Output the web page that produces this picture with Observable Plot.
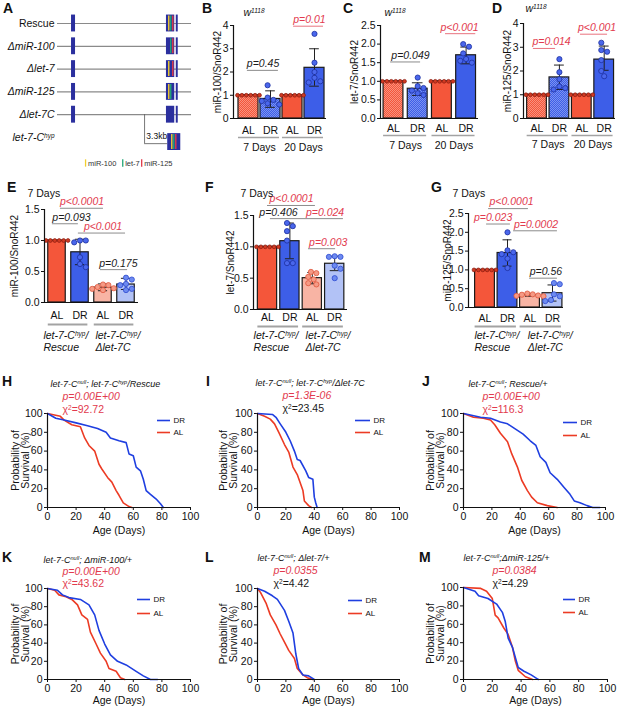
<!DOCTYPE html>
<html><head><meta charset="utf-8">
<script src="https://cdn.jsdelivr.net/npm/d3@7"></script>
<script src="https://cdn.jsdelivr.net/npm/@observablehq/plot@0.6"></script>
<style>
body{margin:0;background:#fff;}
#fig{position:relative;width:617px;height:707px;font-family:"Liberation Sans",Arial,Helvetica,sans-serif;overflow:hidden;background:#fff}
#fig svg{position:absolute;overflow:visible;background:transparent !important;max-width:none}
.lt{position:absolute;font-weight:bold;font-size:14px;line-height:14px;color:#111}
</style></head><body>
<div id="fig">
<svg width="0" height="0" style="position:absolute"><defs>
<pattern id="patR" width="2" height="2" patternUnits="userSpaceOnUse"><rect width="2" height="2" fill="#f4563a"/><rect width="1" height="1" fill="#f8927f"/><rect x="1" y="1" width="1" height="1" fill="#f8927f"/></pattern>
<pattern id="patB" width="2" height="2" patternUnits="userSpaceOnUse"><rect width="2" height="2" fill="#3d5ee8"/><rect width="1" height="1" fill="#7d93f0"/><rect x="1" y="1" width="1" height="1" fill="#7d93f0"/></pattern>
</defs></svg>
</div>
<script>
// ================= DATA =================
// Panel A: constructs (kb positions along the let-7-C locus)
const constructs = ["Rescue","ΔmiR-100","Δlet-7","ΔmiR-125","Δlet-7C","let-7-C^{hyp}"];
const miRNAs = ["miR-100","let-7","miR-125"];
const deleted = [[],["miR-100"],["let-7"],["miR-125"],["miR-100","let-7","miR-125"]];
const locusKb = [0, 19.1];
const exon1Kb = [2.0, 2.57];
const clusterKb = [15.53, 16.71];
const exon3Kb = [16.93, 17.21];
const miRKb = [15.86, 16.14, 16.43];
const hypKb = [15.71, 17.57];
const hypStripeKb = [16.29, 16.57, 16.86];
const gapKb = 3.3;

// Panels B–D (w1118)
const wCats = ["AL","DR","AL","DR"];
const wGroups = ["7 Days","20 Days"];
const B_means = [1, 0.84, 1, 2.18];
const B_sd = [null,[0.48,1.19],null,[1.39,3.0]];
const B_dots = [[1,1,1,1,1,1],[1.43,0.9,0.8,0.75,0.65,0.6],[1,1,1,1,1,1],[3.64,2.4,2.0,1.75,1.6,1.55]];
const B_p = ["p=0.45","p=0.01"], B_pY = [2.07,3.97], B_sig = [false,true];

const C_means = [1, 0.8, 1, 1.7];
const C_sd = [null,[0.62,0.96],null,[1.47,1.92]];
const C_dots = [[1,1,1,1,1,1],[1.1,0.87,0.82,0.75,0.68,0.63],[1,1,1,1,1,1],[2.0,1.93,1.75,1.6,1.55,1.5]];
const C_p = ["p=0.049","p<0.001"], C_pY = [1.52,2.28], C_sig = [false,true];

const D_means = [1, 1.73, 1, 2.48];
const D_sd = [null,[1.22,2.25],null,[2.03,3.05]];
const D_dots = [[1,1,1,1,1,1],[2.5,1.95,1.65,1.35,1.28,1.22],[1,1,1,1,1,1],[3.19,2.88,2.81,2.46,2.0,1.78]];
const D_p = ["p=0.014","p<0.001"], D_pY = [2.95,3.55], D_sig = [true,true];

// Panels E–G (7 days)
const gCats = ["AL","DR","AL","DR"];
const gGroups = ["let-7-C^{hyp}/\nRescue","let-7-C^{hyp}/\nΔlet-7C"];
const E_means = [1, 0.81, 0.24, 0.29];
const E_sd = [null,[0.61,1.02],[0.19,0.3],[0.21,0.39]];
const E_dots = [[1,1,1,1,1,1],[1.0,1.0,0.97,0.73,0.62,0.57],[0.29,0.28,0.25,0.23,0.22,0.2],[0.4,0.37,0.3,0.28,0.22,0.2]];
const E_p = ["p<0.0001","p=0.093","p<0.001","p=0.175"], E_pY = [1.52,1.27,1.12,0.53], E_sig = [true,false,true,false];

const F_means = [1, 1.09, 0.5, 0.73];
const F_sd = [null,[0.81,1.38],[0.41,0.59],[0.62,0.85]];
const F_dots = [[1,1,1,1,1,1],[1.38,1.33,1.25,1.1,0.74,0.74],[0.6,0.58,0.52,0.48,0.42,0.4],[0.85,0.84,0.84,0.7,0.65,0.5]];
const F_p = ["p<0.0001","p=0.406","p=0.024","p=0.003"], F_pY = [1.66,1.45,1.45,0.97], F_sig = [true,false,true,true];

const G_means = [1, 1.45, 0.33, 0.38];
const G_sd = [null,[1.1,1.8],[0.3,0.37],[0.17,0.6]];
const G_dots = [[1,1,1,1,1,1],[2.0,1.52,1.47,1.42,1.3,1.05],[0.37,0.35,0.34,0.32,0.31,0.3],[0.65,0.62,0.35,0.3,0.2,0.17]];
const G_p = ["p<0.0001","p=0.023","p=0.0002","p=0.56"], G_pY = [2.63,2.22,2.04,0.78], G_sig = [true,true,true,false];

// Panels H–M survival curves: [age (days), survival (%)]
const H_DR = [[0,100],[5.8,95],[11.6,93],[20,90],[28,87],[35,84],[41,80],[44,74],[50,71],[55,69],[57,57],[60,55],[62,43],[65,39],[67,30],[69,18],[72,14],[76,9],[79,4],[81,0]];
const H_AL = [[0,100],[9,97],[11.6,93],[17,88],[23,86],[26,74],[29,66],[33,60],[36,46],[38,41],[42,32],[45,27],[48,18],[50,13],[53,5],[57,1],[59,0]];
const I_DR = [[0,100],[10.5,99],[13,96],[16,89],[20,80],[23,71],[26,60],[28,51],[30,50],[34,39],[36,32],[39,30],[40,11],[41,5],[42,0]];
const I_AL = [[0,100],[5,97],[9,94],[12,89],[15,80],[19,67],[22,59],[25,43],[28,35],[32,18],[33,7],[36,2],[38,0]];
const J_DR = [[0,100],[12,96],[19,95],[26,91],[31,89],[34,86],[38,82],[42,78],[47,71],[51,66],[54,54],[58,48],[61,37],[66,30],[71,21],[75,14],[78,7],[82,5],[87,2],[91,0],[96,0]];
const J_AL = [[0,100],[7,96],[14,95],[19,93],[22,88],[26,79],[31,70],[34,57],[38,43],[41,29],[45,18],[48,11],[52,5],[59,2],[66,0]];
const K_DR = [[0,100],[7,98],[10.5,93],[15,90],[23,88],[29,82],[33,71],[36,54],[40,39],[44,27],[49,20],[55,16],[62,9],[67,4],[72,0],[77,0]];
const K_AL = [[0,100],[5,98],[8,93],[13,91],[17,88],[21,82],[24,71],[28,66],[30,52],[34,39],[37,29],[41,20],[43,12],[48,9],[51,2],[54,0]];
const L_DR = [[0,100],[5,97],[10.5,92],[14,88],[19,76],[22,64],[25,51],[27,28],[29,12],[32,5],[36,4],[40,0]];
const L_AL = [[0,100],[2,96],[6,84],[9,71],[13,60],[16,50],[19,41],[22,32],[26,23],[28,12],[32,5],[35,2],[39,0]];
const M_DR = [[0,100],[8,96],[10.5,91],[17,88],[23,82],[27,73],[29,63],[31,45],[34,35],[36,24],[38,13],[42,9],[47,5],[51,1],[52,0]];
const M_AL = [[0,100],[12,99],[16,96],[20,88],[22,70],[24,67],[28,56],[31,49],[34,35],[36,20],[38,10],[43,3],[48,0]];
const survTitles = ["let-7-C^{null}; let-7-C^{hyp}/Rescue","let-7-C^{null}; let-7-C^{hyp}/Δlet-7C","let-7-C^{null}; Rescue/+","let-7-C^{null}; ΔmiR-100/+","let-7-C^{null}; Δlet-7/+","let-7-C^{null};ΔmiR-125/+"];
const survP = ["p=0.00E+00","p=1.3E-06","p=0.00E+00","p=0.00E+00","p=0.0355","p=0.0384"];
const survChi = ["92.72","23.45","116.3","43.62","4.42","4.29"];
const survChiSig = [true,false,true,true,false,false];
const survTicks = [0,20,40,60,80,100];

// ================= STYLE / LAYOUT =================
const FONT = '"Liberation Sans", Arial, Helvetica, sans-serif';
const STYLE = {fontFamily: FONT, fontSize: "10.5px", background: "transparent", overflow: "visible", color: "#111"};
const RED = "#f4563a", BLUE = "#3d5ee8", LRED = "#f8b4a4", LBLUE = "#b2c2f6";
const PRED = "#e23a4e", NAVY = "#2b2f9e";
const AL_LINE = "#ec3b24", DR_LINE = "#1f3fe0";
const miRColor = ["#f2cf2e","#22a676","#e0394a"];
const fig = document.getElementById("fig");

function supify(root){
  root.querySelectorAll("text, tspan").forEach(el => {
    if (el.querySelector("tspan")) return;
    const s = el.textContent;
    if (!s.includes("^{")) return;
    const parts = s.split(/\^\{([^}]*)\}/);
    el.textContent = "";
    parts.forEach((p, k) => {
      if (!p) return;
      if (k % 2) {
        const t = document.createElementNS("http://www.w3.org/2000/svg", "tspan");
        t.setAttribute("baseline-shift", "super");
        t.setAttribute("font-size", "62%");
        t.textContent = p;
        el.appendChild(t);
      } else el.appendChild(document.createTextNode(p));
    });
  });
}
function put(svg, left, top){
  svg.style.position = "absolute";
  svg.style.left = left + "px";
  svg.style.top = top + "px";
  fig.appendChild(svg);
  supify(svg);
}
function letter(ch, x, y){
  const d = document.createElement("div");
  d.className = "lt"; d.textContent = ch;
  d.style.left = x + "px"; d.style.top = y + "px";
  fig.appendChild(d);
}
const MID = {lineAnchor: "middle"};

// ---------- Panel A ----------
function panelA(){
  const left = 0, top = 0, W = 200, H = 175, x0 = 57, x1 = 191, r0 = 23, r5 = 137;
  const tracks = constructs.slice(0, 5).map((c, i) => ({c, i}));
  const stripes = tracks.flatMap(t => miRNAs.map((m, k) => ({i: t.i, x: miRKb[k], col: miRColor[k], del: deleted[t.i].includes(m)})).filter(s => !s.del));
  const hypRow = 5.2;
  const hypStripes = hypStripeKb.map((x, k) => ({x, col: miRColor[k]}));
  const legend = miRNAs.map((m, k) => ({m, col: miRColor[k], k}));
  const legX = [4.0, 9.3, 12.0];
  return Plot.plot({
    width: W, height: H, marginLeft: x0 - left, marginRight: left + W - x1, marginTop: r0 - top, marginBottom: top + H - r5,
    x: {domain: locusKb, axis: null}, y: {domain: [0, 5], reverse: true, axis: null},
    color: {type: "identity"}, style: STYLE,
    marks: [
      Plot.ruleY(tracks, {y: "i", x1: locusKb[0], x2: locusKb[1], stroke: "#8a8a8a", strokeWidth: 1.2}),
      Plot.rect(tracks, {x1: exon1Kb[0], x2: exon1Kb[1], y1: d => d.i - 0.37, y2: d => d.i + 0.37, fill: NAVY}),
      Plot.rect(tracks, {x1: clusterKb[0], x2: clusterKb[1], y1: d => d.i - 0.37, y2: d => d.i + 0.37, fill: NAVY}),
      Plot.rect(tracks, {x1: exon3Kb[0], x2: exon3Kb[1], y1: d => d.i - 0.37, y2: d => d.i + 0.37, fill: NAVY}),
      Plot.ruleX(stripes, {x: "x", y1: d => d.i - 0.33, y2: d => d.i + 0.33, stroke: "col", strokeWidth: 1.4}),
      Plot.rect([0], {x1: hypKb[0], x2: hypKb[1], y1: hypRow - 0.37, y2: hypRow + 0.37, fill: NAVY}),
      Plot.ruleX(hypStripes, {x: "x", y1: hypRow - 0.33, y2: hypRow + 0.33, stroke: "col", strokeWidth: 1.4}),
      Plot.ruleX([hypKb[0] - gapKb], {y1: 4, y2: 5.27, stroke: "#555", strokeWidth: 0.8}),
      Plot.ruleY([5.27], {x1: hypKb[0] - gapKb, x2: hypKb[0], stroke: "#555", strokeWidth: 0.8}),
      Plot.text([gapKb + "kb"], {x: hypKb[0] - gapKb + 0.25, y: 4.95, text: d => d, textAnchor: "start", fontSize: 8.5}),
      Plot.text(tracks.slice(0, 1), {x: locusKb[0], y: "i", dx: -3, text: "c", textAnchor: "end", fontSize: 10.5}),
      Plot.text(constructs.slice(1).map((c, k) => ({c, i: k + 1})), {x: locusKb[0], y: "i", dx: -3, text: "c", textAnchor: "end", fontSize: 10.5, fontStyle: "italic"}),
      Plot.ruleX(legend, {x: d => legX[d.k], y1: 5.98, y2: 6.3, stroke: "col", strokeWidth: 1.3}),
      Plot.text(legend, {x: d => legX[d.k] + 0.35, y: 6.14, text: "m", textAnchor: "start", fontSize: 7.5, fill: "#333"})
    ]
  });
}

// ---------- Bar panels ----------
function barPanel(o){
  const xmin = (o.axisX - o.c0) / o.step, xmax = (o.axisEnd - o.c0) / o.step;
  const hw = o.halfW;
  const pxY = (o.y0px - o.yTopPx) / o.yMax;
  const bars = o.means.map((m, i) => ({i, m, fill: o.fills[i]}));
  const errs = o.sd.map((s, i) => s ? {i, lo: s[0], hi: s[1]} : null).filter(Boolean);
  const caps = errs.flatMap(e => [{i: e.i, y: e.hi}, {i: e.i, y: e.lo}]);
  // simple beeswarm spread of the replicate points inside each bar
  const dots = [];
  o.dots.forEach((arr, i) => {
    const placed = [];
    const dd = (o.dotR[i] * 2 + 0.6);
    arr.forEach(v => {
      const ypx = v * pxY;
      for (let k = 0; k < 40; k++) {
        const off = (k % 2 ? 1 : -1) * Math.ceil(k / 2) * dd / 2;
        if (placed.every(p => Math.hypot(p.off - off, p.ypx - ypx) >= dd)) { placed.push({off, ypx, v}); break; }
      }
    });
    const mn = Math.min(...placed.map(p => p.off)), mx = Math.max(...placed.map(p => p.off));
    placed.forEach(p => dots.push({x: i + (p.off - (mn + mx) / 2) / o.step, y: p.v, fill: o.dotFill[i], stroke: o.dotStroke[i], r: o.dotR[i]}));
  });
  const pv = o.pLabels.map((label, k) => ({label, a: o.pSpan[k][0], b: o.pSpan[k][1], tx: o.pTextX[k], y: o.pY[k], sig: o.pSig[k]}));
  const groups = o.groups.map((label, g) => ({label, a: 2 * g, b: 2 * g + 1, tx: o.groupTextX ? o.groupTextX[g] : 2 * g + 0.5}));
  return Plot.plot({
    width: o.W, height: o.H,
    marginLeft: o.axisX - o.left, marginRight: o.left + o.W - o.axisEnd,
    marginTop: o.yTopPx - o.top, marginBottom: o.top + o.H - o.y0px,
    x: {domain: [xmin, xmax], ticks: [0, 1, 2, 3], tickFormat: i => o.cats[i], tickSize: 0, tickPadding: o.catDy - 3.6, label: null},
    y: {domain: [0, o.yMax], ticks: o.yTicks, tickFormat: o.yFmt, tickSize: 3, tickPadding: 2, label: null},
    color: {type: "identity"}, style: STYLE,
    marks: [
      Plot.rect(bars, {x1: d => d.i - hw, x2: d => d.i + hw, y1: 0, y2: "m", fill: "fill", stroke: "#1b1b1b", strokeWidth: 1.2}),
      Plot.ruleX(errs, {x: "i", y1: "lo", y2: "hi", stroke: "#222", strokeWidth: 1}),
      Plot.ruleY(caps, {y: "y", x1: d => d.i - o.cap, x2: d => d.i + o.cap, stroke: "#222", strokeWidth: 1}),
      Plot.dot(dots.filter(d => d.r < 2.2), {x: "x", y: "y", r: 1.9, fill: "fill", stroke: "stroke", strokeWidth: 0.7}),
      Plot.dot(dots.filter(d => d.r >= 2.2), {x: "x", y: "y", r: 2.6, fill: "fill", stroke: "stroke", strokeWidth: 0.8}),
      Plot.ruleY([0], {stroke: "#111", strokeWidth: 1.2}),
      Plot.ruleX([xmin], {stroke: "#111", strokeWidth: 1.2}),
      Plot.ruleY(pv, {y: "y", x1: "a", x2: "b", stroke: d => d.sig && o.redLines ? "#e9737f" : "#8c8c8c", strokeWidth: 1}),
      Plot.text(pv, {x: "tx", y: "y", dy: -6.5, text: "label", fill: d => d.sig ? PRED : "#1a1a1a", fontStyle: "italic", fontSize: 10.5}),
      Plot.ruleY(groups, {y: () => 0, x1: d => d.a - hw, x2: d => d.b + hw * 0.9, dy: o.lineDy, stroke: "#a3a3a3", strokeWidth: o.lineW}),
      Plot.text(groups, {x: "tx", y: () => 0, dy: o.labelDy, text: "label", textAnchor: o.groupTextX ? "start" : "middle", lineAnchor: "middle", fontStyle: o.groupTextX ? "italic" : "normal", fontSize: 10.5, lineHeight: 1.15}),
      Plot.text([o.ylabel], {...MID, frameAnchor: "left", textAnchor: "middle", dx: o.ylDx, rotate: -90, text: d => d, fontSize: 10}),
      Plot.text([o.title], {...MID, frameAnchor: "top-left", dx: o.tDx, dy: o.tDy, text: d => d, textAnchor: "start", fontStyle: o.titleItalic ? "italic" : "normal", fontSize: 10.5})
    ]
  });
}

const wFills = ["url(#patR)", "url(#patB)", RED, BLUE];
const gFills = [RED, BLUE, LRED, LBLUE];
const wDotFill = ["#cf3a22", "#4a67ec", "#cf3a22", "#4a67ec"], wDotStroke = ["#8a1a0e", "#1c2f9e", "#8a1a0e", "#1c2f9e"];
const gDotFill = ["#cf3a22", "#4a67ec", "#f59a85", "#6d8af0"], gDotStroke = ["#8a1a0e", "#1c2f9e", "#e0573d", "#2d4ad0"];
const dotR = [1.9, 2.6, 2.4, 2.6];
const wDotR = [1.9, 2.6, 1.9, 2.6];

const common = {cats: wCats, groups: wGroups, fills: wFills, dotFill: wDotFill, dotStroke: wDotStroke, dotR: wDotR, cap: 0.22, lineW: 1.5, redLines: true, titleItalic: true, title: "w^{1118}"};
put(barPanel({...common, left: 190, top: 0, W: 150, H: 160, axisX: 233, c0: 248, step: 22, axisEnd: 326, halfW: 0.455,
  y0px: 118, yTopPx: 25, yMax: 4, yTicks: [0,1,2,3,4], yFmt: "d",
  means: B_means, sd: B_sd, dots: B_dots, pLabels: B_p, pY: B_pY, pSig: B_sig,
  pSpan: [[-0.05,1.36],[2.05,3.41]], pTextX: [0.66,2.77],
  catDy: 12, lineDy: 19, labelDy: 29, ylabel: "miR-100/SnoR442", ylDx: -16, tDx: 10, tDy: -13}), 190, 0);
put(barPanel({...common, left: 340, top: 0, W: 150, H: 160, axisX: 380, c0: 393, step: 24.2, axisEnd: 478, halfW: 0.41,
  y0px: 118, yTopPx: 25, yMax: 2.5, yTicks: [0,0.5,1,1.5,2,2.5], yFmt: ".1f",
  means: C_means, sd: C_sd, dots: C_dots, pLabels: C_p, pY: C_pY, pSig: C_sig,
  pSpan: [[-0.12,1.12],[2.15,3.4]], pTextX: [0.7,2.73],
  catDy: 10, lineDy: 17, labelDy: 27, ylabel: "let-7/SnoR442", ylDx: -26, tDx: 4, tDy: -13}), 340, 0);
put(barPanel({...common, left: 490, top: 0, W: 127, H: 160, axisX: 523, c0: 536.5, step: 22.4, axisEnd: 615, halfW: 0.44,
  y0px: 118, yTopPx: 23, yMax: 4, yTicks: [0,1,2,3,4], yFmt: "d",
  means: D_means, sd: D_sd, dots: D_dots, pLabels: D_p, pY: D_pY, pSig: D_sig,
  pSpan: [[-0.16,0.83],[1.94,3.15]], pTextX: [0.65,2.68],
  catDy: 10, lineDy: 17, labelDy: 26, ylabel: "miR-125/SnoR442", ylDx: -16, tDx: 2, tDy: -15}), 490, 0);

const common2 = {cats: gCats, groups: gGroups, fills: gFills, dotFill: gDotFill, dotStroke: gDotStroke, dotR: dotR, cap: 0.2, lineW: 2.2, redLines: false, titleItalic: false, title: "7 Days", yFmt: ".1f"};
put(barPanel({...common2, left: 0, top: 170, W: 200, H: 190, axisX: 44, c0: 56.5, step: 23, axisEnd: 138, halfW: 0.38,
  y0px: 302, yTopPx: 209, yMax: 1.5, yTicks: [0,0.5,1,1.5],
  means: E_means, sd: E_sd, dots: E_dots, pLabels: E_p, pY: E_pY, pSig: E_sig, groupTextX: [-0.59, 1.67],
  pSpan: [[0.15,2.02],[-0.2,0.93],[0.93,2.98],[1.89,3.07]], pTextX: [1.09,0.63,2.0,2.67],
  catDy: 13, lineDy: 22, labelDy: 39, ylabel: "miR-100/SnoR442", ylDx: -30, tDx: -17, tDy: -16}), 0, 170);
put(barPanel({...common2, left: 200, top: 170, W: 200, H: 190, axisX: 253, c0: 267, step: 22.4, axisEnd: 347, halfW: 0.43,
  y0px: 309, yTopPx: 215, yMax: 1.5, yTicks: [0,0.5,1,1.5],
  means: F_means, sd: F_sd, dots: F_dots, pLabels: F_p, pY: F_pY, pSig: F_sig, groupTextX: [-0.62, 1.7],
  pSpan: [[0,2.14],[0.13,1.34],[1.34,3.39],[1.83,3.04]], pTextX: [1.07,0.49,2.57,2.71],
  catDy: 8, lineDy: 17, labelDy: 32, ylabel: "let-7/SnoR442", ylDx: -23, tDx: -13, tDy: -22}), 200, 170);
put(barPanel({...common2, left: 400, top: 170, W: 217, H: 190, axisX: 468, c0: 484.5, step: 22.5, axisEnd: 563, halfW: 0.44,
  y0px: 307, yTopPx: 213, yMax: 2.5, yTicks: [0,0.5,1,1.5,2,2.5],
  means: G_means, sd: G_sd, dots: G_dots, pLabels: G_p, pY: G_pY, pSig: G_sig, groupTextX: [-0.47, 1.9],
  pSpan: [[0.16,1.93],[0.07,1.13],[1.27,3.22],[1.98,3.22]], pTextX: [1.18,0.36,2.27,2.71],
  catDy: 11, lineDy: 19, labelDy: 34, ylabel: "miR-125/SnoR442", ylDx: -21, tDx: -16, tDy: -20}), 400, 170);

// ---------- Survival panels ----------
function survPanel(o){
  const pxX = (o.x100 - o.x0) / 100, pxY = (o.y0 - o.y100) / 100;
  const leg = [{lab: "DR", c: DR_LINE, dy: o.legDy[0]}, {lab: "AL", c: AL_LINE, dy: o.legDy[1]}];
  return Plot.plot({
    width: o.W, height: o.H,
    marginLeft: o.x0 - o.left, marginRight: o.left + o.W - o.x100, marginTop: o.y100 - o.top, marginBottom: o.top + o.H - o.y0,
    x: {domain: [0, 100], ticks: survTicks, tickSize: 3, tickPadding: 2, label: null},
    y: {domain: [0, 100], ticks: survTicks, tickSize: 3, tickPadding: 2, label: null},
    color: {type: "identity"}, style: STYLE,
    marks: [
      Plot.line(o.al, {x: d => d[0], y: d => d[1], stroke: AL_LINE, strokeWidth: 1.6}),
      Plot.line(o.dr, {x: d => d[0], y: d => d[1], stroke: DR_LINE, strokeWidth: 1.6}),
      Plot.ruleX([0], {stroke: "#111", strokeWidth: 1.2}),
      Plot.ruleY([0], {stroke: "#111", strokeWidth: 1.2}),
      Plot.ruleY(leg, {y: d => 100 - d.dy / pxY, x1: o.legDx[0] / pxX, x2: o.legDx[1] / pxX, stroke: "c", strokeWidth: 1.6}),
      Plot.text(leg, {x: o.legDx[2] / pxX, y: d => 100 - d.dy / pxY, text: "lab", textAnchor: "start", fontSize: 8}),
      Plot.text([o.title], {...MID, frameAnchor: "top-left", dx: o.tDx, dy: o.tDy, text: d => d, textAnchor: "start", fontStyle: "italic", fontSize: 9}),
      Plot.text([o.p], {...MID, frameAnchor: "top-left", dx: o.pDx, dy: o.pDy, text: d => d, textAnchor: "start", fontStyle: "italic", fontSize: 10.5, fill: PRED}),
      Plot.text(["χ^{2}=" + o.chi], {...MID, frameAnchor: "top-left", dx: o.pDx, dy: o.cDy, text: d => d, textAnchor: "start", fontSize: 10.5, fill: o.chiSig ? PRED : "#1a1a1a"}),
      Plot.text(["Age (Days)"], {...MID, frameAnchor: "bottom", textAnchor: "middle", dy: o.ageDy, text: d => d, fontSize: 10.5}),
      Plot.text(["Probability of\nSurvival (%)"], {...MID, frameAnchor: "left", textAnchor: "middle", dx: o.ylDx, rotate: -90, text: d => d, fontSize: 10.5, lineHeight: 1.0})
    ]
  });
}
const survLayout = [
  {left: 0,   top: 370, W: 205, H: 170, x0: 47,  x100: 190, y0: 507, y100: 413, tDx: 3,  tDy: -29, pDx: 15, pDy: -17, cDy: -4, legDx: [110,123,126], legDy: [7,19], ylDx: -27, ageDy: 23},
  {left: 200, top: 370, W: 210, H: 170, x0: 257, x100: 399, y0: 507, y100: 413, tDx: -2, tDy: -30, pDx: 25, pDy: -18, cDy: -5, legDx: [98,113,116], legDy: [7,19], ylDx: -29, ageDy: 23},
  {left: 400, top: 370, W: 217, H: 170, x0: 463, x100: 605, y0: 507, y100: 413, tDx: 5,  tDy: -29, pDx: 19, pDy: -17, cDy: -4, legDx: [100,114,117], legDy: [9,22], ylDx: -28, ageDy: 23},
  {left: 0,   top: 545, W: 205, H: 160, x0: 47,  x100: 190, y0: 679, y100: 588, tDx: -4, tDy: -28, pDx: 15, pDy: -17, cDy: -5, legDx: [90,103,106], legDy: [11,25], ylDx: -27, ageDy: 21.5},
  {left: 200, top: 545, W: 210, H: 160, x0: 257, x100: 399, y0: 679, y100: 588, tDx: 0,  tDy: -30, pDx: 16, pDy: -18, cDy: -5, legDx: [91,105,108], legDy: [12,25], ylDx: -29, ageDy: 21.5},
  {left: 400, top: 545, W: 217, H: 160, x0: 463, x100: 607, y0: 679, y100: 587, tDx: 0,  tDy: -29, pDx: 29, pDy: -17, cDy: -4, legDx: [100,112,115], legDy: [12,25], ylDx: -28, ageDy: 21.5}
];
const survData = [[H_DR,H_AL],[I_DR,I_AL],[J_DR,J_AL],[K_DR,K_AL],[L_DR,L_AL],[M_DR,M_AL]];
survLayout.forEach((L, k) => {
  put(survPanel({...L, dr: survData[k][0], al: survData[k][1], title: survTitles[k], p: survP[k], chi: survChi[k], chiSig: survChiSig[k]}), L.left, L.top);
});

put(panelA(), 0, 0);

// panel letters
[["A",3,1],["B",202,1],["C",343,1],["D",492,1],["E",7,180],["F",205,180],["G",431,180],
 ["H",2,374],["I",206,374],["J",422,374],["K",2,550],["L",205,550],["M",419,550]].forEach(d => letter(...d));
</script></body></html>
